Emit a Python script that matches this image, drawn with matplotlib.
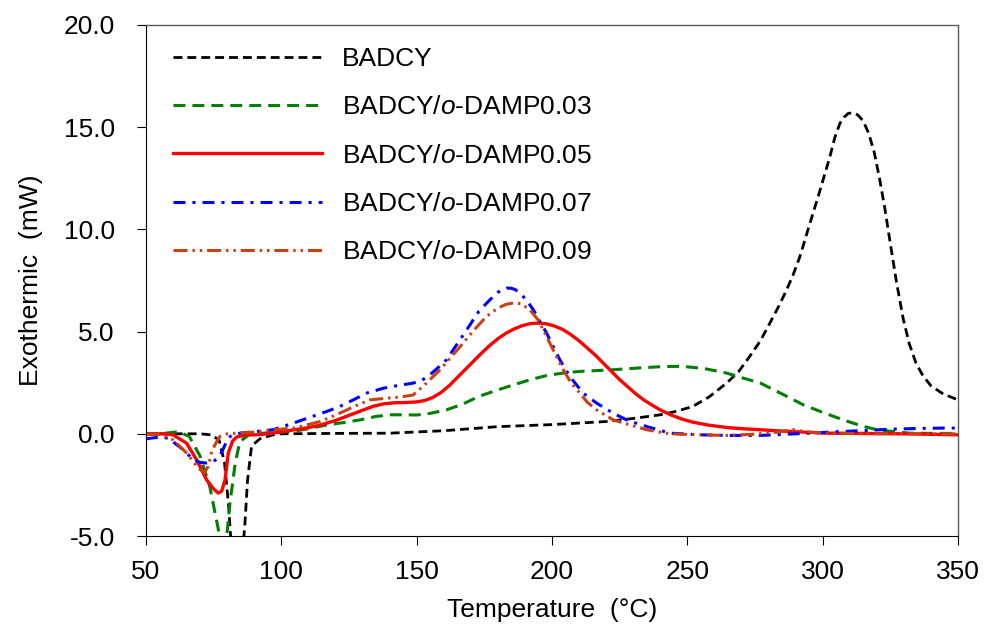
import matplotlib
matplotlib.use("Agg")
import matplotlib.pyplot as plt
from matplotlib.ticker import FormatStrFormatter, MultipleLocator

plt.rcParams['font.family'] = 'Liberation Sans'
plt.rcParams['mathtext.fontset'] = 'custom'
plt.rcParams['mathtext.rm'] = 'Liberation Sans'
plt.rcParams['mathtext.it'] = 'Liberation Sans:italic'
plt.rcParams['axes.unicode_minus'] = False

# DSC curves (temperature in C, heat flow in mW)
t_badcy = [50, 60, 70, 74, 77, 79, 80.5, 81.5, 83.5, 85.5, 86.5, 87.5, 89, 92, 97, 100,
           120, 140, 160, 180, 200, 220, 230, 240, 246, 252, 258, 264.5, 269, 273, 277,
           280.5, 284, 286.7, 289, 291.6, 295.3, 299, 302.7, 304.5, 306.4, 308, 309.5,
           311.3, 313, 315, 317, 319, 321, 323, 325, 327.3, 329.8, 332, 334.5, 337,
           340, 344.5, 350]
y_badcy = [0, 0, 0, -0.05, -0.3, -1.4, -3.5, -5.5, -8, -6, -4.5, -2.3, -0.6, -0.25, -0.05, 0,
           0.02, 0.03, 0.15, 0.35, 0.45, 0.6, 0.75, 0.93, 1.1, 1.34, 1.8, 2.48, 3.05, 3.78,
           4.55, 5.42, 6.3, 7.05, 7.75, 8.67, 10.3, 11.9, 13.57, 14.5, 15.2, 15.5, 15.68,
           15.7, 15.6, 15.3, 14.7, 13.8, 12.5, 11.0, 9.3, 7.4, 5.6, 4.4, 3.45, 2.85,
           2.35, 1.95, 1.66]

t_003 = [50, 55, 62, 66, 70, 73.6, 76, 77.5, 79, 80, 81, 83, 84.7, 88, 95, 104, 110, 117,
         123, 129, 135, 140, 145, 150, 155, 161, 167, 173, 180, 186, 192, 198, 204, 210,
         222, 232, 241, 248, 256, 264.5, 270, 277, 285, 292.8, 300, 307.6, 314, 320, 326,
         332, 340, 350]
y_003 = [0, 0, 0.1, -0.13, -1.1, -2.6, -4.2, -5.2, -5.4, -4.8, -3.4, -1.4, -0.38, -0.05,
         0.05, 0.11, 0.25, 0.44, 0.55, 0.68, 0.85, 0.93, 0.93, 0.92, 1.0, 1.17, 1.45, 1.83,
         2.15, 2.4, 2.65, 2.85, 2.97, 3.05, 3.13, 3.22, 3.29, 3.3, 3.2, 2.97, 2.75, 2.48,
         1.95, 1.42, 1.05, 0.68, 0.4, 0.2, 0.11, 0.03, 0.02, 0.02]

t_005 = [50, 56, 60, 65, 68.7, 72.4, 75, 76.7, 78, 79.2, 80.4, 82, 83.5, 87, 91, 95, 100,
         105, 110, 115, 120, 125, 130, 134, 138, 142, 146, 150, 153, 156, 159, 162, 165,
         168, 171, 174, 177, 180, 183, 186, 189, 192, 195, 198, 201, 204, 207, 210, 213,
         216, 219, 222, 225, 228, 231, 234, 237, 240, 244, 248, 252, 258, 264.5, 270,
         276.8, 283, 290, 301.5, 313.8, 330, 350]
y_005 = [0, 0, -0.05, -0.46, -1.27, -2.25, -2.7, -2.9, -2.8, -2.25, -0.94, -0.35, -0.16,
         -0.05, -0.05, 0.0, 0.1, 0.2, 0.3, 0.45, 0.65, 0.9, 1.15, 1.35, 1.47, 1.52, 1.53,
         1.56, 1.63, 1.78, 2.02, 2.35, 2.75, 3.15, 3.55, 3.95, 4.32, 4.65, 4.92, 5.13,
         5.29, 5.39, 5.42, 5.38, 5.27, 5.1, 4.85, 4.55, 4.2, 3.85, 3.45, 3.05, 2.65, 2.3,
         1.95, 1.65, 1.4, 1.17, 0.92, 0.72, 0.57, 0.42, 0.31, 0.25, 0.2, 0.15, 0.1, 0.03,
         0.02, 0.0, -0.05]

t_007 = [50, 52.6, 56, 58.9, 61, 63.8, 67.5, 70, 72.4, 75, 77.3, 79, 80.4, 82, 84.7, 90,
         97, 104.4, 110, 116.7, 121, 125.4, 131.5, 137.7, 142.6, 148.7, 152, 155, 158,
         161, 165, 169.7, 173, 177.1, 180, 181.5, 183.2, 185, 186.5, 188.2, 190.5, 193.1,
         195.5, 198, 200.5, 202.9, 206.6, 211.5, 216.5, 222.6, 228, 234.9, 243.5, 255,
         264.5, 276.8, 285, 295.3, 305, 313.8, 326, 335, 344.5, 350]
y_007 = [-0.25, -0.2, -0.15, -0.25, -0.5, -0.78, -1.27, -1.4, -1.43, -1.35, -1.1, -0.6,
         -0.2, -0.05, 0.03, 0.1, 0.2, 0.52, 0.78, 1.09, 1.3, 1.58, 1.99, 2.23, 2.35, 2.48,
         2.62, 2.9, 3.25, 3.62, 4.4, 5.33, 6.0, 6.56, 6.92, 7.05, 7.13, 7.12, 7.05, 6.88,
         6.55, 6.07, 5.5, 4.93, 4.25, 3.62, 2.8, 1.99, 1.5, 1.01, 0.65, 0.36, 0.03, -0.05,
         -0.08, -0.08, -0.03, 0.03, 0.1, 0.15, 0.23, 0.26, 0.28, 0.28]

t_009 = [50, 56, 60.1, 65, 69.3, 71.5, 73, 74.3, 75.8, 77.3, 80, 83.5, 90, 92.1, 98, 104.4,
         109, 114.3, 118, 122.9, 128, 132.7, 138.9, 144, 148.7, 153, 158.6, 163, 167.2,
         171, 175.8, 180, 183, 185.7, 188.5, 191.8, 195, 198, 201, 204.2, 207, 210.3, 213,
         216.5, 222.6, 228.8, 234.9, 243.5, 255, 264.5, 275, 283, 289.1, 295, 305, 320,
         335, 350]
y_009 = [0, -0.05, -0.3, -0.94, -1.68, -1.9, -1.6, -0.86, -0.45, -0.13, 0.0, 0.03, 0.08,
         0.11, 0.2, 0.28, 0.42, 0.6, 0.8, 1.09, 1.4, 1.66, 1.74, 1.8, 1.9, 2.4, 3.13, 3.8,
         4.44, 5.05, 5.74, 6.15, 6.33, 6.4, 6.37, 6.07, 5.55, 4.76, 3.95, 3.13, 2.5, 1.99,
         1.55, 1.17, 0.68, 0.44, 0.2, 0.0, -0.05, -0.08, -0.02, 0.08, 0.2, 0.08, 0.02, 0.0,
         0.0, 0.0]

labels = ['BADCY',
          'BADCY/$\\mathit{o}$-DAMP0.03',
          'BADCY/$\\mathit{o}$-DAMP0.05',
          'BADCY/$\\mathit{o}$-DAMP0.07',
          'BADCY/$\\mathit{o}$-DAMP0.09']

fig = plt.figure(figsize=(9.87, 6.3), dpi=100)
ax = fig.add_axes([146 / 987, 94 / 630, 812 / 987, 511 / 630])

ax.plot(t_badcy, y_badcy, color='black', lw=2.0, ls=(0, (3.2, 1.8)), label=labels[0])
ax.plot(t_003, y_003, color='#008000', lw=2.2, ls=(0, (3.9, 2.3)), label=labels[1])
ax.plot(t_005, y_005, color='#ff0000', lw=2.4, ls='-', label=labels[2])
ax.plot(t_007, y_007, color='#0000ff', lw=2.2, ls=(0, (3.9, 2.3, 1.0, 2.3)), label=labels[3])
ax.plot(t_009, y_009, color='#cc4010', lw=2.2,
        ls=(0, (4.6, 1.6, 0.8, 1.6, 0.8, 1.6)), label=labels[4])

ax.set_xlim(50, 350)
ax.set_ylim(-5, 20)
ax.xaxis.set_major_locator(MultipleLocator(50))
ax.yaxis.set_major_locator(MultipleLocator(5))
ax.yaxis.set_major_formatter(FormatStrFormatter('%.1f'))

ax.tick_params(axis='x', direction='out', length=6.5, width=0.8, labelsize=19, pad=11,
               top=False)
ax.tick_params(axis='y', direction='out', length=6.5, width=0.8, labelsize=19, pad=16,
               right=False)
for side in ['left', 'bottom']:
    ax.spines[side].set_linewidth(0.8)
    ax.spines[side].set_color('black')
for side in ['top', 'right']:
    ax.spines[side].set_linewidth(1.0)
    ax.spines[side].set_color('#595959')

ax.set_xlabel('Temperature  (°C)', fontsize=19, labelpad=10)
ax.set_ylabel('Exothermic  (mW)', fontsize=19, labelpad=15)

ax.legend(loc='upper left', bbox_to_anchor=(0.033, 0.957), frameon=False, fontsize=19,
          handlelength=5.65, handletextpad=0.76, labelspacing=0.92, borderpad=0,
          borderaxespad=0)

fig.savefig('out.png', dpi=100)
